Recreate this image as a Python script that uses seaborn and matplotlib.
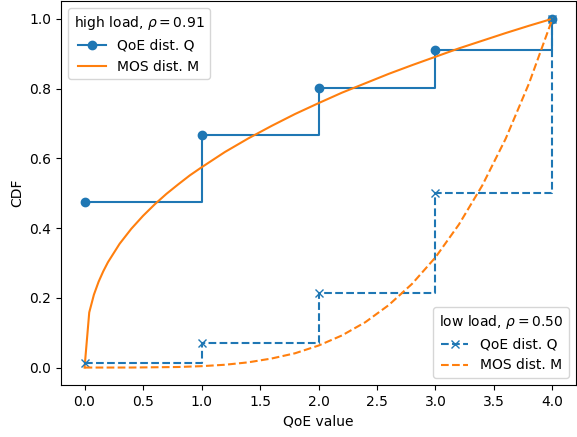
import numpy as np
import matplotlib
matplotlib.use('Agg')
import matplotlib.pyplot as plt
import seaborn as sns

# ===== data =====
qoe_values = [0, 1, 2, 3, 4]
cdf_q_high = [0.476, 0.667, 0.802, 0.910, 1.0]
cdf_q_low = [0.014, 0.071, 0.214, 0.500, 1.0]

mos_x_high = [0.0, 0.04, 0.08, 0.12, 0.16, 0.2, 0.3, 0.4, 0.5, 0.6, 0.7, 0.8, 0.9, 1.0,
              1.2, 1.4, 1.6, 1.8, 2.0, 2.2, 2.4, 2.6, 2.8, 3.0, 3.2, 3.4, 3.6, 3.8, 4.0]
mos_cdf_high = [0.0, 0.158, 0.209, 0.246, 0.276, 0.302, 0.355, 0.398, 0.435, 0.468, 0.498,
                0.525, 0.551, 0.574, 0.618, 0.657, 0.693, 0.727, 0.758, 0.788, 0.815,
                0.842, 0.867, 0.891, 0.915, 0.937, 0.959, 0.980, 1.0]

mos_x_low = [0.0, 0.4, 0.8, 1.0, 1.2, 1.4, 1.6, 1.8, 2.0, 2.2, 2.4, 2.6, 2.8, 3.0,
             3.2, 3.4, 3.6, 3.8, 4.0]
mos_cdf_low = [0.0, 0.0001, 0.0016, 0.004, 0.008, 0.015, 0.026, 0.041, 0.063, 0.092,
               0.130, 0.179, 0.240, 0.316, 0.410, 0.522, 0.656, 0.815, 1.0]

rho_high = 0.91
rho_low = 0.50

# ===== plot =====
fig, ax = plt.subplots(figsize=(5.77, 4.37), dpi=100)

sns.lineplot(x=qoe_values, y=cdf_q_high, ax=ax, color='C0', marker='o',
             markersize=6, markeredgewidth=1, markeredgecolor='C0',
             drawstyle='steps-post', label='QoE dist. Q')
sns.lineplot(x=mos_x_high, y=mos_cdf_high, ax=ax, color='C1', label='MOS dist. M')
sns.lineplot(x=qoe_values, y=cdf_q_low, ax=ax, color='C0', marker='x',
             markersize=6, markeredgewidth=1, markeredgecolor='C0',
             linestyle='--', drawstyle='steps-post', label='QoE dist. Q')
sns.lineplot(x=mos_x_low, y=mos_cdf_low, ax=ax, color='C1', linestyle='--',
             label='MOS dist. M')

handles, labels = ax.get_legend_handles_labels()
leg1 = ax.legend(handles[:2], labels[:2], loc='upper left',
                 title=r'high load, $\rho=%.2f$' % rho_high)
ax.add_artist(leg1)
ax.legend(handles[2:], labels[2:], loc='lower right',
          title=r'low load, $\rho=%.2f$' % rho_low)

ax.set_xlabel('QoE value')
ax.set_ylabel('CDF')

plt.subplots_adjust(left=0.106, right=0.998, bottom=0.119, top=0.997)
plt.savefig('out.png', dpi=100)
